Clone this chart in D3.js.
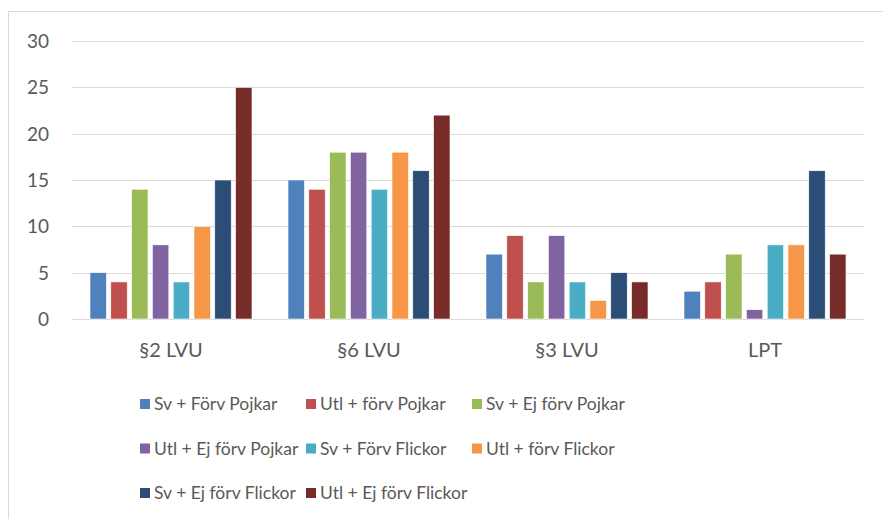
<!DOCTYPE html>
<html>
<head>
<meta charset="utf-8">
<script src="https://cdn.jsdelivr.net/npm/d3@7"></script>
<style>
  body { margin: 0; background: #fff; }
  svg text { font-family: Lato, "Open Sans", "Liberation Sans", sans-serif; fill: #595959; }
</style>
</head>
<body>
<div id="chart"></div>
<script>
// categories and series
const categories = ["§2 LVU", "§6 LVU", "§3 LVU", "LPT"];
const seriesNames = ["Sv + Förv Pojkar", "Utl + förv Pojkar", "Sv + Ej förv Pojkar",
  "Utl + Ej förv Pojkar", "Sv + Förv Flickor", "Utl + förv Flickor",
  "Sv + Ej förv Flickor", "Utl + Ej förv Flickor"];
const seriesColors = ["#4F81BD", "#C0504D", "#9BBB59", "#8064A2", "#4BACC6", "#F79646", "#2C4D75", "#772C2A"];
// values per category, in series order
const values = [
  [5, 4, 14, 8, 4, 10, 15, 25],
  [15, 14, 18, 18, 14, 18, 16, 22],
  [7, 9, 4, 9, 4, 2, 5, 4],
  [3, 4, 7, 1, 8, 8, 16, 7]
];
const yTicks = [0, 5, 10, 15, 20, 25, 30];

const width = 883, height = 519;
const svg = d3.select('#chart').append('svg')
  .attr('width', width)
  .attr('height', height);

// outer chart border
svg.append('rect')
  .attr('x', 8.5).attr('y', 11.5)
  .attr('width', 900).attr('height', 600)
  .style('fill', 'none')
  .style('stroke', '#d9d9d9')
  .style('stroke-width', 1);

const plotLeft = 72, plotRight = 864, plotTop = 41, plotBottom = 319;

let y = d3.scaleLinear().domain([0, 30]).range([plotBottom, plotTop]);
let x0 = d3.scaleBand().domain(categories).range([plotLeft, plotRight]);
let x1 = d3.scaleBand().domain(seriesNames)
  .range([18, x0.bandwidth() - 18])
  .paddingInner(0.21);

// gridlines
svg.append('g')
  .selectAll('line')
  .data(yTicks)
  .join('line')
  .attr('x1', plotLeft).attr('x2', plotRight)
  .attr('y1', d => Math.round(y(d)) + 0.5)
  .attr('y2', d => Math.round(y(d)) + 0.5)
  .style('stroke', '#d9d9d9')
  .style('stroke-width', 1);

// y labels
svg.append('g')
  .selectAll('text')
  .data(yTicks)
  .join('text')
  .attr('x', 49)
  .attr('y', d => y(d))
  .attr('dy', '0.36em')
  .attr('text-anchor', 'end')
  .style('font-size', '19px')
  .text(d => d);

// bars
let groups = svg.append('g')
  .selectAll('g.cat')
  .data(categories)
  .join('g')
  .classed('cat', true)
  .attr('transform', d => 'translate(' + x0(d) + ',0)');

groups.selectAll('rect')
  .data((d, i) => values[i].map((v, j) => ({ name: seriesNames[j], value: v, color: seriesColors[j] })))
  .join('rect')
  .attr('x', d => x1(d.name))
  .attr('width', x1.bandwidth())
  .attr('y', d => y(d.value))
  .attr('height', d => y(0) - y(d.value))
  .style('fill', d => d.color)
  .style('stroke', '#fff')
  .style('stroke-width', 0.6);

// category labels
svg.append('g')
  .selectAll('text')
  .data(categories)
  .join('text')
  .attr('x', d => x0(d) + x0.bandwidth() / 2)
  .attr('y', 357)
  .attr('text-anchor', 'middle')
  .style('font-size', '20px')
  .text(d => d);

// legend
let legendItems = svg.selectAll('g.legendItem')
  .data(seriesNames)
  .join('g')
  .classed('legendItem', true)
  .attr('transform', (d, i) => 'translate(' + (140 + (i % 3) * 166) + ',' + (404 + Math.floor(i / 3) * 44.5) + ')');

legendItems.append('rect')
  .attr('x', 0).attr('y', -5)
  .attr('width', 10).attr('height', 10)
  .style('fill', (d, i) => seriesColors[i]);

legendItems.append('text')
  .attr('x', 14)
  .attr('dy', '0.36em')
  .style('font-size', '17.5px')
  .text(d => d);
</script>
</body>
</html>
